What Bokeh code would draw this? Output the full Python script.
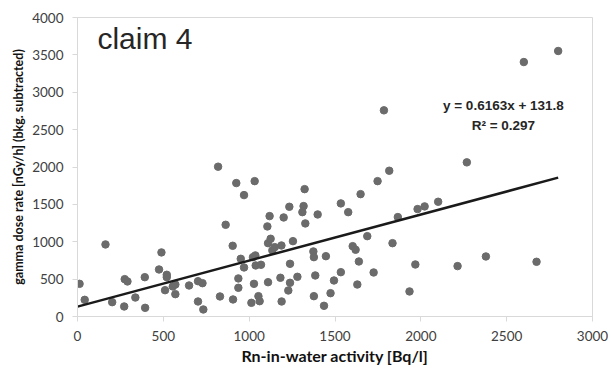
from bokeh.plotting import figure
from bokeh.models import Range1d, FixedTicker, Label
from bokeh.embed import file_html
from bokeh.resources import INLINE

rn_activity = [12, 42, 163, 202, 272, 275, 291, 337, 392, 394, 475, 489, 510, 520, 520,
               555, 570, 570, 650, 702, 728, 702, 733, 819, 830, 863, 904, 906, 925, 937,
               937, 951, 970, 970, 1013, 1028, 1032, 1022, 1036, 1038, 1054, 1061, 1069,
               1106, 1110, 1125, 1119, 1110, 1135, 1149, 1189, 1182, 1188, 1201, 1228,
               1234, 1238, 1238, 1255, 1281, 1310, 1317, 1323, 1327, 1374, 1377, 1377,
               1385, 1399, 1436, 1447, 1474, 1494, 1534, 1534, 1577, 1603, 1620, 1630,
               1639, 1649, 1688, 1725, 1748, 1816, 1835, 1866, 1934, 1968, 1981, 2022,
               2101, 2214, 2268, 2379, 2674, 1785, 2600, 2800]
gamma_dose = [437, 223, 964, 192, 134, 500, 469, 254, 526, 116, 629, 857, 352, 558, 526,
              402, 428, 299, 415, 472, 446, 201, 94, 2004, 268, 1227, 946, 228, 1785, 509,
              384, 772, 1624, 656, 183, 437, 1811, 794, 817, 683, 272, 205, 692,
              1205, 981, 1040, 1343, 459, 884, 928, 201, 518, 950, 1325, 348,
              1468, 705, 451, 1008, 531, 1396, 1477, 1704, 1245, 870, 794, 272,
              549, 1365, 143, 807, 312, 482, 1513, 593, 1396, 941, 893, 428,
              736, 1637, 1075, 589, 1811, 1950, 981, 1330, 335, 696, 1437, 1473,
              1535, 674, 2062, 803, 732, 2758, 3404, 3552]

x_ticks = [0, 500, 1000, 1500, 2000, 2500, 3000]
y_ticks = [0, 500, 1000, 1500, 2000, 2500, 3000, 3500, 4000]
slope = 0.6163
intercept = 131.8
r_squared = 0.297
panel_title = "claim 4"
x_label = "Rn-in-water activity [Bq/l]"
y_label = "gamma dose rate [nGy/h] (bkg. subtracted)"

p = figure(width=611, height=369, output_backend="svg", toolbar_location=None,
           x_range=Range1d(0, 3000), y_range=Range1d(0, 4000),
           min_border_left=77, min_border_right=19, min_border_top=17, min_border_bottom=53,
           background_fill_color="white", border_fill_color="white")

p.xgrid.visible = False
p.ygrid.visible = False
p.outline_line_color = "#d9d9d9"
p.outline_line_width = 1

for ax in (p.xaxis, p.yaxis):
    ax.axis_line_color = "#d9d9d9"
    ax.major_tick_line_color = "#d9d9d9"
    ax.major_tick_out = 5
    ax.major_tick_in = 0
    ax.minor_tick_line_color = None
    ax.major_label_text_font = "Lato"
    ax.major_label_text_font_size = "13.5px"
    ax.major_label_text_color = "#404040"
    ax.axis_label_text_font = "Lato"
    ax.axis_label_text_font_style = "bold"
    ax.axis_label_text_color = "#111111"

p.xaxis.ticker = FixedTicker(ticks=x_ticks)
p.yaxis.ticker = FixedTicker(ticks=y_ticks)
p.xaxis.axis_label = x_label
p.yaxis.axis_label = y_label
p.xaxis.axis_label_text_font_size = "16px"
p.yaxis.axis_label_text_font_size = "12.5px"
p.xaxis.major_label_standoff = 9
p.yaxis.major_label_standoff = 9
p.xaxis.axis_label_standoff = 2
p.yaxis.axis_label_standoff = 3

p.scatter(rn_activity, gamma_dose, size=7.5, color="#6b6b6b", line_color="#6b6b6b")

x_end = max(rn_activity)
p.line([0, x_end], [intercept, intercept + slope * x_end], line_color="#1a1a1a", line_width=2.5)

p.add_layout(Label(x=116, y=3494, text=panel_title, text_font="Liberation Sans",
                   text_font_size="30px", text_color="#262626"))
p.add_layout(Label(x=2481, y=2718, text=f"y = {slope}x + {intercept}", text_font="Liberation Sans",
                   text_font_size="13.5px", text_font_style="bold", text_align="center",
                   text_color="#262626"))
p.add_layout(Label(x=2481, y=2450, text=f"R\u00b2 = {r_squared}", text_font="Liberation Sans",
                   text_font_size="13.5px", text_font_style="bold", text_align="center",
                   text_color="#262626"))

open("out.html", "w").write(file_html(p, INLINE))
